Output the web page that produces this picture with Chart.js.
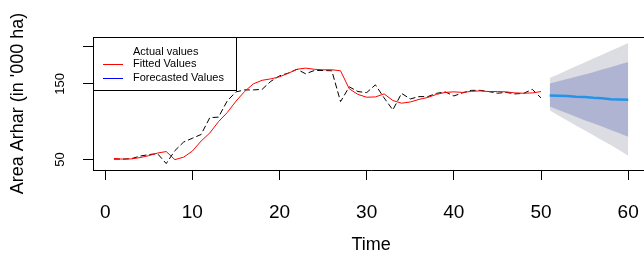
<!DOCTYPE html>
<html>
<head>
<meta charset="utf-8">
<script src="https://cdn.jsdelivr.net/npm/chart.js@4"></script>
<style>
  html, body { margin: 0; padding: 0; overflow: hidden; background: #fff; }
  #wrap { position: absolute; left: 0; top: 0; width: 660px; height: 256px; }
</style>
</head>
<body>
<div id="wrap"><canvas id="chart"></canvas></div>
<script>
// actual series, t = 1..50
const actualValues = [50.4, 50.4, 51, 54.4, 56.4, 57.7, 44.5, 61.7, 73, 78,
  83, 105.2, 106, 127.4, 139.4, 142, 142, 142.7, 153.3, 160.6,
  164.2, 169.3, 163.3, 167.7, 167.7, 167.3, 126.5, 146, 139.8, 138.4,
  148.7, 131.4, 115.5, 137.4, 130, 133.1, 133.1, 137.4, 139.4, 134,
  138, 141.4, 141.4, 139.8, 137.6, 138.7, 136.7, 137.4, 142.7, 131.4];

// fitted values, t = 1..50
const fittedValues = [51.3, 50.4, 50.7, 52.4, 55, 58.4, 60.4, 49.7, 53, 61,
  74.3, 85, 100, 112, 127, 140, 150, 154.7, 156.6, 159.3,
  164, 169.3, 170.8, 169.3, 168.6, 168.6, 167.3, 143.4, 136, 132.3,
  132.7, 136.7, 128, 124.4, 126, 129.4, 132, 136, 138.7, 139.4,
  138.7, 140, 140.7, 139.8, 139.8, 139.4, 138, 137.6, 138, 139.8];

// forecast, t = 51..60
const forecastMean = [134.5, 134.3, 134, 132.8, 132.5, 131.5, 131, 129.5, 129.3, 129.1];
const hi80 = [150.5, 153.5, 156.5, 159.5, 162.5, 165.5, 169, 172, 175.5, 178.8];
const lo80 = [120, 115.5, 111, 106.5, 102, 98, 93.5, 89, 84.5, 80];
const hi95 = [157.6, 162.8, 168, 173.2, 178.4, 183.5, 188.6, 193.7, 198.8, 204];
const lo95 = [115, 108, 101.5, 95, 88.5, 82, 75.5, 69, 62, 55];

const xTicks = [0, 10, 20, 30, 40, 50, 60];
const yTicks = [50, 150, 200];
const yTickLabels = { 50: '50', 150: '150' };

const legendLabels = ['Actual values', 'Fitted Values', 'Forecasted Values'];

const FONT = "'Liberation Sans', Arial, sans-serif";

function pts(values, start) {
  return values.map((v, i) => ({ x: start + i, y: v }));
}

// legend box drawn inside the plot, top-left, like R's legend()
const boxLegend = {
  id: 'boxLegend',
  afterDraw(chart) {
    const ctx = chart.ctx;
    const a = chart.chartArea;
    ctx.save();
    // top border of the plot box
    ctx.strokeStyle = '#000';
    ctx.lineWidth = 1;
    ctx.beginPath();
    ctx.moveTo(a.left, a.top + 0.5);
    ctx.lineTo(a.right, a.top + 0.5);
    ctx.stroke();

    ctx.fillStyle = '#fff';
    ctx.fillRect(a.left + 1, a.top + 1, 142, 52);
    ctx.strokeRect(a.left + 0.5, a.top + 0.5, 143, 53);

    const rows = [
      { text: legendLabels[0], color: null, y: a.top + 15 },
      { text: legendLabels[1], color: '#ff0000', y: a.top + 27 },
      { text: legendLabels[2], color: '#0000ff', y: a.top + 41 }
    ];
    ctx.font = '11px ' + FONT;
    ctx.textBaseline = 'middle';
    ctx.textAlign = 'left';
    rows.forEach(r => {
      if (r.color) {
        ctx.strokeStyle = r.color;
        ctx.beginPath();
        ctx.moveTo(a.left + 10, r.y + 0.5);
        ctx.lineTo(a.left + 30, r.y + 0.5);
        ctx.stroke();
      }
      ctx.fillStyle = '#000';
      ctx.fillText(r.text, a.left + 40, r.y);
    });
    ctx.restore();
  }
};

const ctx = document.getElementById('chart').getContext('2d');
new Chart(ctx, {
  type: 'line',
  data: {
    datasets: [
      {
        label: 'Fitted Values',
        data: pts(fittedValues, 1),
        borderColor: '#ff0000',
        borderWidth: 1,
        pointRadius: 0,
        tension: 0
      },
      {
        label: 'Actual values',
        data: pts(actualValues, 1),
        borderColor: '#000000',
        borderWidth: 1,
        borderDash: [6, 3],
        pointRadius: 0,
        tension: 0
      },
      {
        label: 'Forecasted Values',
        data: pts(forecastMean, 51),
        borderColor: '#2393ea',
        borderWidth: 2.5,
        pointRadius: 0,
        tension: 0
      },
      {
        label: 'hi80',
        data: pts(hi80, 51),
        borderColor: 'rgba(0,0,0,0)',
        borderWidth: 0,
        backgroundColor: '#b0b4d3',
        fill: '+1',
        pointRadius: 0
      },
      {
        label: 'lo80',
        data: pts(lo80, 51),
        borderColor: 'rgba(0,0,0,0)',
        borderWidth: 0,
        pointRadius: 0
      },
      {
        label: 'hi95',
        data: pts(hi95, 51),
        borderColor: 'rgba(0,0,0,0)',
        borderWidth: 0,
        backgroundColor: '#dcdce3',
        fill: '+1',
        pointRadius: 0
      },
      {
        label: 'lo95',
        data: pts(lo95, 51),
        borderColor: 'rgba(0,0,0,0)',
        borderWidth: 0,
        pointRadius: 0
      }
    ]
  },
  options: {
    responsive: true,
    maintainAspectRatio: false,
    animation: false,
    layout: { padding: { top: 37, right: 7, left: 0, bottom: 0 } },
    plugins: {
      legend: { display: false },
      tooltip: { enabled: false }
    },
    scales: {
      x: {
        type: 'linear',
        min: -1.4,
        max: 62.4,
        afterBuildTicks: s => { s.ticks = xTicks.map(v => ({ value: v })); },
        afterFit: s => { s.height = 86; },
        grid: { drawOnChartArea: false, drawTicks: true, tickLength: 10, color: '#000' },
        border: { display: true, color: '#000', width: 1 },
        ticks: {
          color: '#000',
          font: { family: FONT, size: 19 },
          padding: 21,
          maxRotation: 0,
          autoSkip: false
        },
        title: {
          display: true,
          text: 'Time',
          color: '#000',
          font: { family: FONT, size: 18 },
          padding: { top: 0, bottom: 0 }
        }
      },
      y: {
        type: 'linear',
        min: 36,
        max: 212,
        afterBuildTicks: s => { s.ticks = yTicks.map(v => ({ value: v })); },
        afterFit: s => { s.width = 93; },
        grid: { drawOnChartArea: false, drawTicks: true, tickLength: 10, color: '#000' },
        border: { display: true, color: '#000', width: 1 },
        ticks: {
          color: '#000',
          font: { family: FONT, size: 13 },
          padding: 12,
          minRotation: 90,
          maxRotation: 90,
          crossAlign: 'center',
          autoSkip: false,
          callback: v => yTickLabels[v] || ''
        },
        title: {
          display: true,
          text: "Area Arhar (in '000 ha)",
          color: '#000',
          font: { family: FONT, size: 18 },
          padding: { top: 7, bottom: 0 }
        }
      }
    }
  },
  plugins: [boxLegend]
});
</script>
</body>
</html>
